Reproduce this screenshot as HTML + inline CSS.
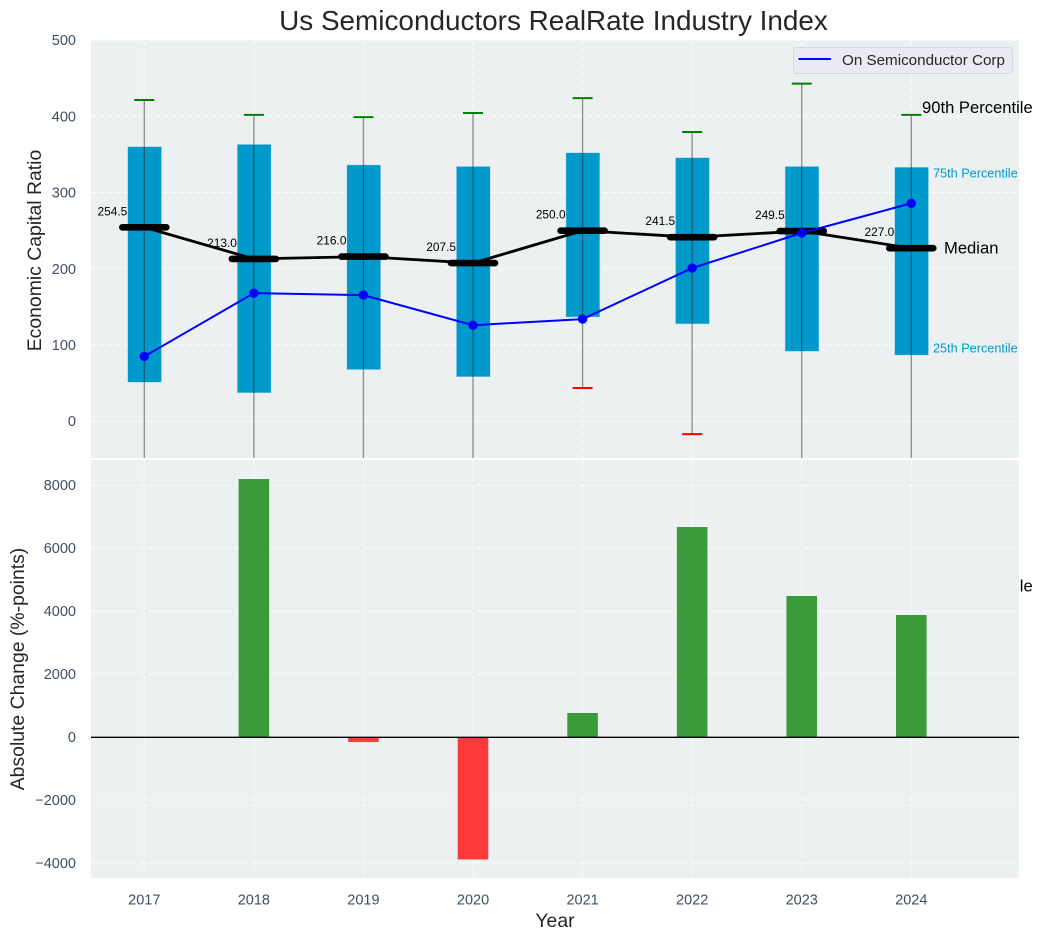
<!DOCTYPE html>
<html>
<head>
<meta charset="utf-8">
<title>Us Semiconductors RealRate Industry Index</title>
<style>
html,body{margin:0;padding:0;background:#fff;}
svg{display:block;font-family:"Liberation Sans",Arial,sans-serif;}
</style>
</head>
<body>
<svg id="chart" width="1043" height="940" viewBox="0 0 1043 940" xmlns="http://www.w3.org/2000/svg">
<defs>
<clipPath id="top-clip"><rect x="91" y="40" width="928" height="418"></rect></clipPath>
<clipPath id="bottom-clip"><rect x="91" y="460" width="928" height="418"></rect></clipPath>
</defs>
</svg>
<script>
const years = [2017, 2018, 2019, 2020, 2021, 2022, 2023, 2024];
const p90 = [421.5, 402, 399, 404.5, 424, 379.5, 443, 402];
const p75 = [360, 363, 336, 334, 352, 345.5, 334, 333];
const medians = [254.5, 213, 216, 207.5, 250, 241.5, 249.5, 227];
const p25 = [51.4, 37.5, 68, 58.6, 137, 128, 92, 87];
const p10 = [-90, -80, -75, -85, 43.6, -17, -70, -65];
const companyValues = [85, 168, 165.5, 126, 134, 201, 247, 286];
const absoluteChange = [0, 8195, -160, -3890, 762, 6670, 4480, 3875];
const topTicks = [0, 100, 200, 300, 400, 500];
const bottomTicks = [-4000, -2000, 0, 2000, 4000, 6000, 8000];

const svg = document.getElementById('chart');
const NS = 'http://www.w3.org/2000/svg';
const xScale = function (year) { return 144.3 + (year - 2017) * 109.57; };
const yTop = function (v) { return 421.2 - v * 0.762; };
const yBottom = function (v) { return 737 - v * 0.03148; };
const tickColor = '#3d4f66';
const tickSize = 14.5;

function make(tag, attrs, parent, text) {
  const el = document.createElementNS(NS, tag);
  for (const k in attrs) el.setAttribute(k, attrs[k]);
  if (text !== undefined) el.textContent = text;
  (parent || svg).appendChild(el);
  return el;
}
function formatTick(v) { return String(v).replace('-', '\u2212'); }

// Top panel
const topPanel = make('g', {});


const topBg = make('rect', {x: 91, y: 40, width: 928, height: 418, fill: '#ecf0f1'}, topPanel);


const topPlot = make('g', {'clip-path': 'url(#top-clip)'}, topPanel);



topTicks.forEach(function (t) {
  const g = make('line', {x1: 91, x2: 1019, y1: yTop(t), y2: yTop(t), stroke: '#fff', 'stroke-width': 1, 'stroke-dasharray': '5 3', 'stroke-opacity': 0.85}, topPlot);
  
  
  const label = make('text', {x: 76, y: yTop(t) + 5, 'text-anchor': 'end', 'font-size': tickSize, fill: tickColor}, topPanel, formatTick(t));
  
  
});
years.forEach(function (yr) {
  const g = make('line', {x1: xScale(yr), x2: xScale(yr), y1: 40, y2: 458, stroke: '#fff', 'stroke-width': 1, 'stroke-dasharray': '5 3', 'stroke-opacity': 0.85}, topPlot);
  
  
});

years.forEach(function (yr, i) {
  const x = xScale(yr);
  const box = make('rect', {x: x - 16.4, y: yTop(p75[i]), width: 33.4, height: yTop(p25[i]) - yTop(p75[i]), fill: '#0099cc', stroke: '#0099cc', 'stroke-opacity': 0.2, 'stroke-width': 1}, topPlot);
  
  
  const whisker = make('line', {x1: x, x2: x, y1: yTop(p90[i]), y2: yTop(p10[i]), stroke: '#222', 'stroke-opacity': 0.5, 'stroke-width': 1.3}, topPlot);
  
  
  const hi = make('line', {x1: x - 10, x2: x + 10, y1: yTop(p90[i]), y2: yTop(p90[i]), stroke: '#008000', 'stroke-width': 2}, topPlot);
  
  
  const lo = make('line', {x1: x - 10, x2: x + 10, y1: yTop(p10[i]), y2: yTop(p10[i]), stroke: '#ff0000', 'stroke-width': 2}, topPlot);
  
  
});

const medianLine = make('polyline', {points: years.map(function (yr, i) { return xScale(yr) + ',' + yTop(medians[i]); }).join(' '), fill: 'none', stroke: '#000', 'stroke-width': 2.8}, topPlot);


years.forEach(function (yr, i) {
  const x = xScale(yr);
  const seg = make('line', {x1: x - 22, x2: x + 22, y1: yTop(medians[i]), y2: yTop(medians[i]), stroke: '#000', 'stroke-width': 6.6, 'stroke-linecap': 'round'}, topPlot);
  
  
  const label = make('text', {x: x - 17, y: yTop(medians[i]) - 12, 'text-anchor': 'end', 'font-size': 11.9, fill: '#000'}, topPanel, medians[i].toFixed(1));
  
  
});

const companyLine = make('polyline', {points: years.map(function (yr, i) { return xScale(yr) + ',' + yTop(companyValues[i]); }).join(' '), fill: 'none', stroke: '#0000ff', 'stroke-width': 2}, topPlot);


years.forEach(function (yr, i) {
  const dot = make('circle', {cx: xScale(yr), cy: yTop(companyValues[i]), r: 4.7, fill: '#0000ff'}, topPlot);
  
  
});

const ann90 = make('text', {x: 922, y: 113, 'font-size': 16.6, fill: '#000'}, topPanel, '90th Percentile');


const ann75 = make('text', {x: 933, y: 177.5, 'font-size': 12.7, fill: '#0099cc'}, topPanel, '75th Percentile');


const annMed = make('text', {x: 944, y: 253.5, 'font-size': 16.6, fill: '#000'}, topPanel, 'Median');


const ann25 = make('text', {x: 933, y: 352.5, 'font-size': 12.7, fill: '#0099cc'}, topPanel, '25th Percentile');


const ann10 = make('text', {x: 922, y: 591.5, 'font-size': 16.6, fill: '#000'}, topPanel, '10th Percentile');



// Legend
const legend = make('g', {}, topPanel);


const legendBox = make('rect', {x: 793.5, y: 47.5, width: 219, height: 26, rx: 3, fill: '#eaeaf2', stroke: '#d5d8dc', 'stroke-width': 1}, legend);


const legendSwatch = make('line', {x1: 798.5, x2: 831, y1: 59, y2: 59, stroke: '#0000ff', 'stroke-width': 2}, legend);


const legendText = make('text', {x: 842, y: 65, 'font-size': 15.2, fill: '#262626'}, legend, 'On Semiconductor Corp');



// Bottom panel
const bottomPanel = make('g', {});


const bottomBg = make('rect', {x: 91, y: 460, width: 928, height: 418, fill: '#ecf0f1'}, bottomPanel);


const bottomPlot = make('g', {'clip-path': 'url(#bottom-clip)'}, bottomPanel);



bottomTicks.forEach(function (t) {
  const g = make('line', {x1: 91, x2: 1019, y1: yBottom(t), y2: yBottom(t), stroke: '#fff', 'stroke-width': 1, 'stroke-dasharray': '5 3', 'stroke-opacity': 0.85}, bottomPlot);
  
  
  const label = make('text', {x: 76, y: yBottom(t) + 5, 'text-anchor': 'end', 'font-size': tickSize, fill: tickColor}, bottomPanel, formatTick(t));
  
  
});
years.forEach(function (yr, i) {
  const x = xScale(yr);
  const g = make('line', {x1: x, x2: x, y1: 460, y2: 878, stroke: '#fff', 'stroke-width': 1, 'stroke-dasharray': '5 3', 'stroke-opacity': 0.85}, bottomPlot);
  
  
  const label = make('text', {x: x, y: 904.5, 'text-anchor': 'middle', 'font-size': tickSize, fill: tickColor}, bottomPanel, String(yr));
  
  
});
years.forEach(function (yr, i) {
  const v = absoluteChange[i];
  const bar = make('rect', {x: xScale(yr) - 15.3, y: Math.min(yBottom(v), yBottom(0)), width: 30.6, height: Math.abs(yBottom(v) - yBottom(0)), fill: v >= 0 ? '#008000' : '#ff0000', 'fill-opacity': 0.76}, bottomPlot);
  
  
});
const zeroLine = make('line', {x1: 91, x2: 1019, y1: yBottom(0) + 0.3, y2: yBottom(0) + 0.3, stroke: '#000', 'stroke-width': 1.4}, bottomPlot);



// Titles
const title = make('text', {x: 553.5, y: 30, 'text-anchor': 'middle', 'font-size': 27.9, fill: '#262626'}, svg, 'Us Semiconductors RealRate Industry Index');


const yTopTitle = make('text', {transform: 'translate(41,250.5) rotate(-90)', 'text-anchor': 'middle', 'font-size': 19.4, fill: '#262626'}, svg, 'Economic Capital Ratio');


const yBottomTitle = make('text', {transform: 'translate(24,669) rotate(-90)', 'text-anchor': 'middle', 'font-size': 19.4, fill: '#262626'}, svg, 'Absolute Change (%-points)');


const xTitle = make('text', {x: 555, y: 927, 'text-anchor': 'middle', 'font-size': 19.4, fill: '#262626'}, svg, 'Year');


</script>
</body>
</html>
